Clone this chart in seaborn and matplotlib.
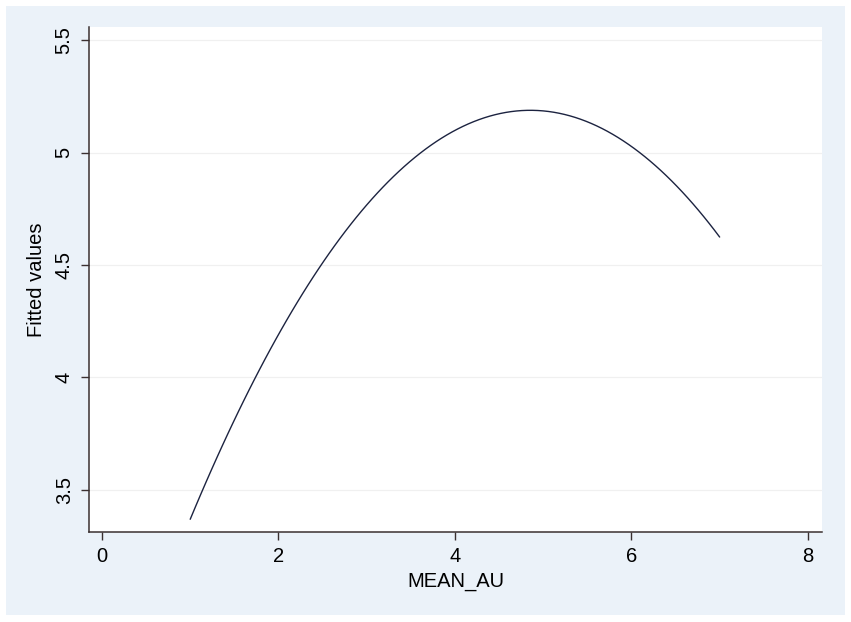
import numpy as np
import pandas as pd
import matplotlib
matplotlib.use("Agg")
import matplotlib.pyplot as plt
import seaborn as sns
from matplotlib.patches import Rectangle

# values
mean_au = [1.0, 1.5, 2.0, 2.5, 3.0, 3.5, 4.0, 4.5, 5.0, 5.5, 6.0, 6.5, 7.0]
fitted = [3.37, 3.81, 4.19, 4.51, 4.77, 4.96, 5.10, 5.17, 5.18, 5.14, 5.03, 4.86, 4.62]

x_ticks = [0, 2, 4, 6, 8]
y_ticks = [3.5, 4, 4.5, 5, 5.5]
y_tick_labels = ["3.5", "4", "4.5", "5", "5.5"]

df = pd.DataFrame({"MEAN_AU": mean_au, "Fitted values": fitted})

sns.set_style("white")
plt.rcParams["font.family"] = ["Liberation Sans", "DejaVu Sans"]

fig = plt.figure(figsize=(8.51, 6.22), dpi=100, facecolor="white")
# light blue graph region like Stata's s2color scheme
fig.patches.append(Rectangle((6 / 851, 1 - 615 / 622), 839 / 851, 609 / 622,
                             transform=fig.transFigure, facecolor="#ebf2f9",
                             edgecolor="none", zorder=-10))

ax = fig.add_axes([89 / 851, 1 - 532 / 622, 733 / 851, 505 / 622])
ax.set_facecolor("white")

# quadratic fit line (qfit)
sns.regplot(data=df, x="MEAN_AU", y="Fitted values", order=2, ci=None,
            scatter=False, truncate=True,
            line_kws={"color": "#1c2340", "lw": 1.0}, ax=ax)

ax.set_xlim(-0.147, 8.16)
ax.set_ylim(3.313, 5.558)

ax.set_xticks(x_ticks)
ax.set_yticks(y_ticks)
ax.set_yticklabels(y_tick_labels, rotation=90, va="center")

for yv in y_ticks:
    ax.axhline(yv, color="#f0f0f0", lw=0.9, zorder=0)

for side in ["top", "right"]:
    ax.spines[side].set_visible(False)
for side in ["left", "bottom"]:
    ax.spines[side].set_color("#3a3030")
    ax.spines[side].set_linewidth(1.1)

ax.tick_params(axis="both", which="major", direction="out", length=6,
               width=1.0, color="#3a3030", labelsize=14.5, pad=5, labelcolor="black")
ax.tick_params(axis="x", bottom=True)
ax.tick_params(axis="y", left=True)

ax.set_xlabel("MEAN_AU", fontsize=14.5, labelpad=4, color="black")
ax.set_ylabel("Fitted values", fontsize=14.5, labelpad=6, color="black")

fig.savefig("out.png", dpi=100, facecolor="white")
